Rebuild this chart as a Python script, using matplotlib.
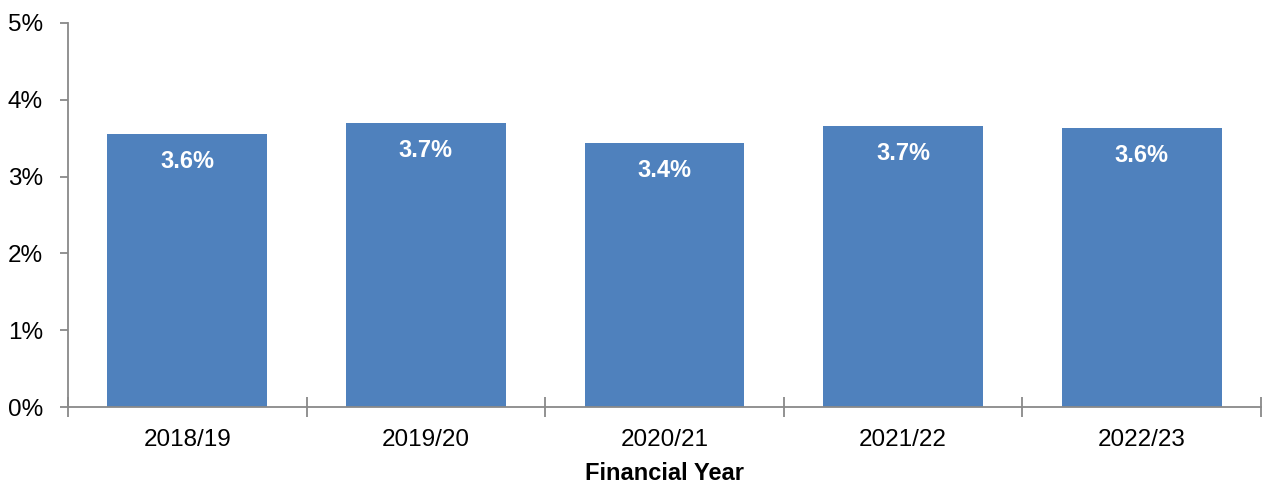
import matplotlib.pyplot as plt

plt.rcParams['font.family'] = ['Liberation Sans', 'DejaVu Sans']

# Data
years = ["2018/19", "2019/20", "2020/21", "2021/22", "2022/23"]
rates = [3.555, 3.70, 3.44, 3.66, 3.63]
labels = ["3.6%", "3.7%", "3.4%", "3.7%", "3.6%"]

fig = plt.figure(figsize=(12.63, 4.83), dpi=100)
ax = fig.add_axes([68/1263, 76/483, 1193/1263, 384/483])

x = range(len(years))
bars = ax.bar(x, rates, width=0.67, color='#4F81BD')

for xi, v, lab in zip(x, rates, labels):
    ax.annotate(lab, (xi, v), xytext=(0, -20), textcoords='offset points',
                ha='center', va='center', color='white',
                fontsize=17, fontweight='bold')

ax.set_xlim(-0.5, len(years) - 0.5)
ax.set_ylim(0, 5)
ax.set_yticks(range(6))
ax.set_yticklabels([f"{i}%" for i in range(6)], fontsize=17.5)

# category labels centered, ticks on category boundaries
ax.set_xticks(list(x))
ax.set_xticklabels(years, fontsize=17.5)
ax.tick_params(axis='x', which='major', length=0, pad=16)
ax.set_xticks([i - 0.5 for i in range(len(years) + 1)], minor=True)
ax.tick_params(axis='x', which='minor', direction='inout', length=14,
               width=1.3, color='#898989')
ax.tick_params(axis='y', direction='out', length=6, width=1.3,
               color='#898989', pad=12)

for s in ['top', 'right']:
    ax.spines[s].set_visible(False)
for s in ['left', 'bottom']:
    ax.spines[s].set_color('#898989')
    ax.spines[s].set_linewidth(1.3)

ax.set_xlabel("Financial Year", fontsize=17, fontweight='bold', labelpad=8)

fig.savefig("out.png", dpi=100)
